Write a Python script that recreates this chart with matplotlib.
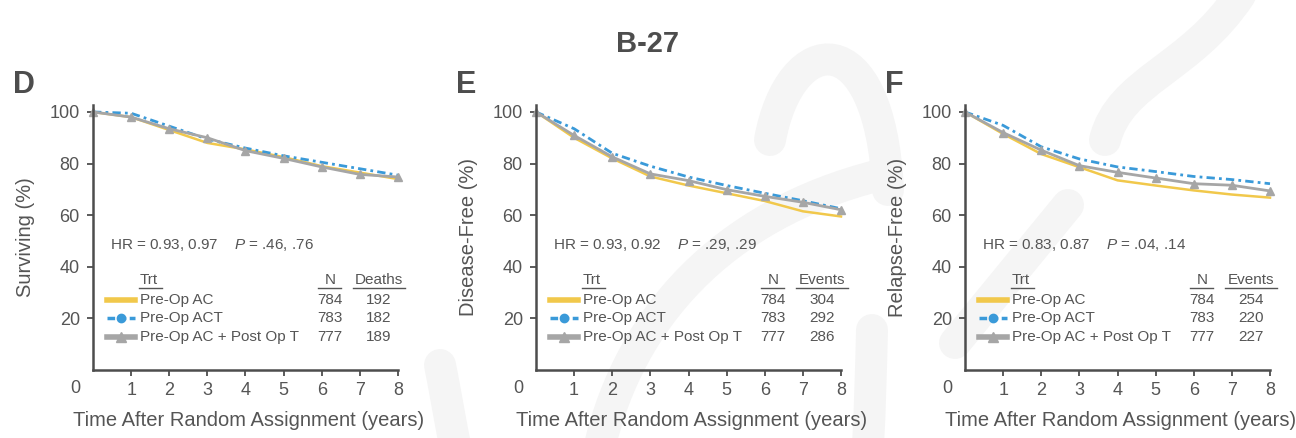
import matplotlib
matplotlib.use('Agg')
import matplotlib.pyplot as plt
from matplotlib.path import Path
from matplotlib.patches import PathPatch
from matplotlib.transforms import Affine2D

plt.rcParams['font.family'] = ['Liberation Sans', 'DejaVu Sans']
plt.rcParams['mathtext.fontset'] = 'custom'
plt.rcParams['mathtext.it'] = 'Liberation Sans:italic'
plt.rcParams['mathtext.rm'] = 'Liberation Sans'

years = [0, 1, 2, 3, 4, 5, 6, 7, 8]
treatments = ['Pre-Op AC', 'Pre-Op ACT', 'Pre-Op AC + Post Op T']
n_patients = [784, 783, 777]

# D: overall survival
os_ac = [100, 98, 93, 88, 85.5, 82.5, 79, 76.5, 74]
os_act = [100, 99.5, 94.5, 89.5, 86, 83, 80.5, 78, 75.5]
os_post = [100, 98, 93.5, 90, 85, 82, 78.7, 75.8, 74.8]
os_deaths = [192, 182, 189]

# E: disease-free survival
dfs_ac = [100, 90, 82, 75, 71.5, 68.5, 65.5, 61.5, 59.5]
dfs_act = [100, 93.5, 84, 79, 74.8, 71.5, 68.5, 65.6, 62.5]
dfs_post = [100, 90.9, 82.6, 76, 73.4, 69.9, 67.3, 65, 62.1]
dfs_events = [304, 292, 286]

# F: relapse-free interval
rfi_ac = [100, 91.5, 83.7, 78.6, 73.5, 71.5, 69.6, 68, 66.8]
rfi_act = [100, 94.8, 86.5, 81.8, 78.7, 76.9, 75, 73.8, 72.2]
rfi_post = [100, 92, 85.2, 79.2, 76.6, 74.4, 72.2, 71.6, 69.4]
rfi_events = [254, 220, 227]

panels = [
    ('D', 'Surviving (%)', 'Deaths', 'HR = 0.93, 0.97    $P$ = .46, .76',
     [os_ac, os_act, os_post], os_deaths, 93),
    ('E', 'Disease-Free (%)', 'Events', 'HR = 0.93, 0.92    $P$ = .29, .29',
     [dfs_ac, dfs_act, dfs_post], dfs_events, 536),
    ('F', 'Relapse-Free (%)', 'Events', 'HR = 0.83, 0.87    $P$ = .04, .14',
     [rfi_ac, rfi_act, rfi_post], rfi_events, 965),
]

yellow = '#F1C84B'
blue = '#3A9AD9'
gray = '#A6A6A6'
dark = '#4d4d4d'
txt = '#555555'
wm = '#f5f5f5'
styles = [
    dict(color=yellow, lw=1.8, ls='-'),
    dict(color=blue, lw=2.0, ls=(0, (3, 1.5, 1, 1.5))),
    dict(color=gray, lw=2.0, ls='-', marker='^', ms=6),
]
swatch = [
    dict(color=yellow, lw=4, ls='-'),
    dict(color=blue, lw=2.5, ls=(0, (2.2, 1)), marker='o', ms=6, markevery=[1]),
    dict(color=gray, lw=4, ls='-', marker='^', ms=7, markevery=[1]),
]

W, H = 1296, 438
fig = plt.figure(figsize=(W / 100, H / 100), dpi=100)

# faint watermark swoosh in the background
px = Affine2D().scale(1 / W, -1 / H).translate(0, 1) + fig.transFigure
strokes = [
    [(600, 445), (630, 320), (720, 215), (880, 175)],
    [(770, 140), (790, 30), (880, 20), (888, 190)],
    [(1240, -5), (1190, 70), (1120, 80), (1105, 140)],
    [(440, 365), (445, 390), (450, 420), (455, 445)],
    [(872, 330), (871, 370), (870, 410), (868, 445)],
]
for pts in strokes:
    path = Path(pts, [Path.MOVETO, Path.CURVE4, Path.CURVE4, Path.CURVE4])
    fig.patches.append(PathPatch(path, fill=False, edgecolor=wm, lw=23,
                                 capstyle='round', transform=px, zorder=-10))
line = Path([(955, 343), (1068, 205)])
fig.patches.append(PathPatch(line, fill=False, edgecolor=wm, lw=23,
                             capstyle='round', transform=px, zorder=-10))

fig.text(648 / W, 1 - 44 / H, 'B-27', fontsize=21, fontweight='bold',
         color=dark, ha='center', va='center')

for letter, ylab, col, hr, curves, events, left in panels:
    ax = fig.add_axes([left / W, (H - 370) / H, 305 / W, 265 / H])
    ax.set_facecolor('none')
    for vals, st in zip(curves, styles):
        ax.plot(years, vals, clip_on=False, **st)
    ax.set_xlim(0, 8)
    ax.set_ylim(0, 102.7)
    ax.set_xticks(years[1:])
    ax.set_yticks([20, 40, 60, 80, 100])
    for s in ['top', 'right']:
        ax.spines[s].set_visible(False)
    for s in ['left', 'bottom']:
        ax.spines[s].set_color(dark)
        ax.spines[s].set_linewidth(1.8)
    ax.tick_params(direction='out', length=4, width=1.3, color=dark,
                   labelcolor=txt, labelsize=13)
    ax.tick_params(axis='x', pad=4.5)
    ax.tick_params(axis='y', pad=5.5)
    ax.text(-0.059, -0.068, '0', transform=ax.transAxes, fontsize=13,
            color=txt, ha='center', va='center')
    ax.set_ylabel(ylab, fontsize=14.5, color=txt)
    ax.yaxis.set_label_coords(-0.19, 0.5)
    ax.set_xlabel('Time After Random Assignment (years)', fontsize=14.5, color=txt)
    ax.xaxis.set_label_coords(0.51, -0.155)
    ax.text(-0.262, 1.132, letter, transform=ax.transAxes, fontsize=22,
            fontweight='bold', color=dark, ha='left', va='top')

    # hazard ratio line and legend table
    ax.text(0.056, 0.472, hr, transform=ax.transAxes, fontsize=11,
            color=txt, ha='left', va='center')
    hy = 0.34
    ax.text(0.154, hy, 'Trt', transform=ax.transAxes, fontsize=11,
            color=txt, ha='left', va='center')
    ax.text(0.777, hy, 'N', transform=ax.transAxes, fontsize=11,
            color=txt, ha='center', va='center')
    ax.text(0.937, hy, col, transform=ax.transAxes, fontsize=11,
            color=txt, ha='center', va='center')
    for x0, x1 in [(0.151, 0.226), (0.738, 0.813), (0.852, 1.022)]:
        ax.plot([x0, x1], [0.309, 0.309], transform=ax.transAxes,
                color=txt, lw=1, clip_on=False)
    rows_y = [0.264, 0.195, 0.126]
    for ry, name, n, ev, sw in zip(rows_y, treatments, n_patients, events, swatch):
        ax.plot([0.046, 0.092, 0.138], [ry, ry, ry], transform=ax.transAxes,
                clip_on=False, **sw)
        ax.text(0.154, ry, name, transform=ax.transAxes, fontsize=11,
                color=txt, ha='left', va='center')
        ax.text(0.777, ry, str(n), transform=ax.transAxes, fontsize=11,
                color=txt, ha='center', va='center')
        ax.text(0.937, ry, str(ev), transform=ax.transAxes, fontsize=11,
                color=txt, ha='center', va='center')

fig.savefig('out.png', dpi=100)
